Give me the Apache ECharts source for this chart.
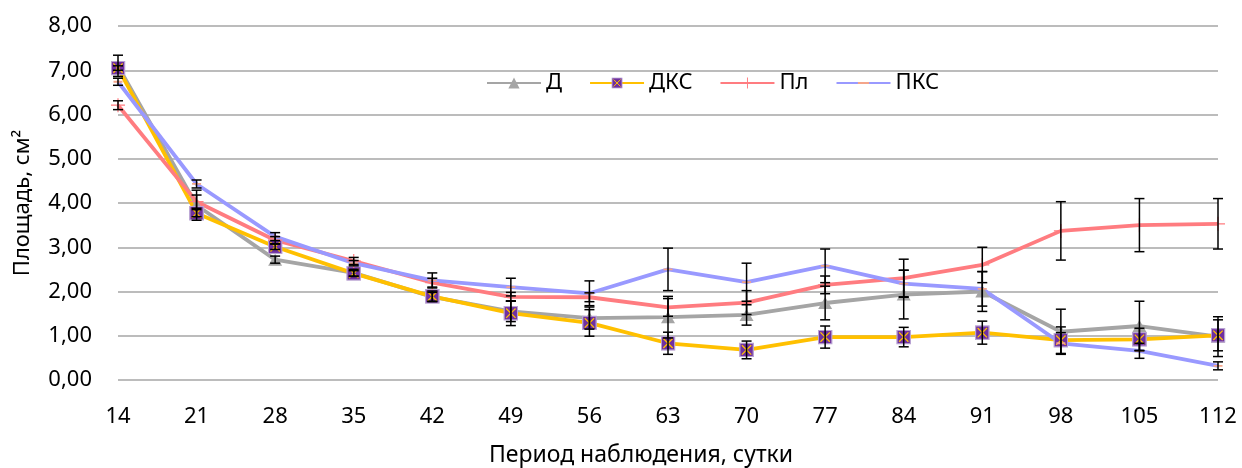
<!DOCTYPE html>
<html>
<head>
<meta charset="utf-8">
<script src="https://cdn.jsdelivr.net/npm/echarts@6/dist/echarts.min.js"></script>
<style>
html,body{margin:0;padding:0;background:#fff;}
#chart{width:1242px;height:468px;}
</style>
</head>
<body>
<div id="chart"></div>
<script>
// ---- data ----
const categories = ['14','21','28','35','42','49','56','63','70','77','84','91','98','105','112'];
const seriesNames = ['Д', 'ДКС', 'Пл', 'ПКС'];
const valD   = [7.10, 3.95, 2.72, 2.42, 1.88, 1.55, 1.40, 1.42, 1.47, 1.74, 1.93, 2.00, 1.09, 1.22, 0.98];
const valDKS = [7.05, 3.77, 3.01, 2.41, 1.89, 1.51, 1.29, 0.83, 0.68, 0.97, 0.97, 1.07, 0.90, 0.92, 1.01];
const valPl  = [6.21, 4.03, 3.16, 2.69, 2.20, 1.88, 1.87, 1.64, 1.75, 2.15, 2.30, 2.60, 3.37, 3.50, 3.53];
const valPKS = [6.74, 4.43, 3.24, 2.64, 2.25, 2.10, 1.96, 2.50, 2.21, 2.58, 2.18, 2.06, 0.83, 0.66, 0.32];
// error bar half-widths
const errD   = [0.24, 0.34, 0.08, 0.08, 0.10, 0.23, 0.25, 0.47, 0.23, 0.38, 0.55, 0.45, 0.51, 0.56, 0.45];
const errDKS = [0.05, 0.08, 0.06, 0.06, 0.12, 0.28, 0.30, 0.25, 0.20, 0.25, 0.22, 0.26, 0.30, 0.25, 0.35];
const errPl  = [0.10, 0.15, 0.08, 0.08, 0.10, 0.10, 0.10, 0.20, 0.27, 0.20, 0.43, 0.40, 0.66, 0.60, 0.57];
const errPKS = [0.08, 0.09, 0.09, 0.06, 0.17, 0.20, 0.28, 0.48, 0.43, 0.38, 0.30, 0.39, 0.24, 0.17, 0.09];
const yTicks = {min: 0, max: 8, interval: 1};

// ---- styles ----
const FONT = 'Noto Sans';
const dksSvg = '<svg xmlns="http://www.w3.org/2000/svg" width="16" height="16" viewBox="0 0 16 16">' +
  '<rect x="0.75" y="0.75" width="14.5" height="14.5" fill="#7030A0" stroke="#B9A3D3" stroke-width="1.5"/>' +
  '<path d="M3,3 L13,13 M13,3 L3,13" stroke="#FFC000" stroke-width="1.4"/></svg>';
const dksSymbol = 'image://data:image/svg+xml;charset=utf-8,' + encodeURIComponent(dksSvg);
const plusSymbol = 'path://M0,6.4H14V7.6H0Z M6.4,0H7.6V14H6.4Z';
const dashSymbol = 'path://M0,0L0,0Z M0,3.2H8V4.8H0Z M8,8L8,8Z';

const vals = [valD, valDKS, valPl, valPKS];
const errs = [errD, errDKS, errPl, errPKS];

function errData(v, e) {
  return v.map((y, i) => [i, y - e[i], y + e[i]]);
}

const lineSeries = [
  {name: seriesNames[0], type: 'line', data: valD, symbol: 'triangle', symbolSize: [14, 12],
   itemStyle: {color: '#A5A5A5'}, lineStyle: {color: '#A5A5A5', width: 3.8}},
  {name: seriesNames[1], type: 'line', data: valDKS, symbol: dksSymbol, symbolSize: 15,
   itemStyle: {color: '#7030A0'}, lineStyle: {color: '#FFC000', width: 3.8}},
  {name: seriesNames[2], type: 'line', data: valPl, symbol: plusSymbol, symbolSize: 14,
   itemStyle: {color: '#FF7C80'}, lineStyle: {color: '#FF7C80', width: 3.8}},
  {name: seriesNames[3], type: 'line', data: valPKS, symbol: dashSymbol, symbolSize: 9,
   itemStyle: {color: '#F4A58A'}, lineStyle: {color: '#9999FF', width: 3.8}}
].map(s => Object.assign(s, {showSymbol: true, showAllSymbol: true, z: 2, animation: false,
  emphasis: {disabled: true}}));

const errorSeries = vals.map((v, k) => ({
  type: 'custom',
  name: seriesNames[k] + '_err',
  z: 3,
  silent: true,
  animation: false,
  data: errData(v, errs[k]),
  renderItem: function (params, api) {
    const x = api.value(0);
    const lo = api.coord([x, api.value(1)]);
    const hi = api.coord([x, api.value(2)]);
    const cw = 5;
    const st = {stroke: '#000', lineWidth: 1.5};
    return {
      type: 'group',
      children: [
        {type: 'line', shape: {x1: lo[0], y1: lo[1], x2: hi[0], y2: hi[1]}, style: st},
        {type: 'line', shape: {x1: lo[0] - cw, y1: lo[1], x2: lo[0] + cw, y2: lo[1]}, style: st},
        {type: 'line', shape: {x1: hi[0] - cw, y1: hi[1], x2: hi[0] + cw, y2: hi[1]}, style: st}
      ]
    };
  }
}));

const chart = echarts.init(document.getElementById('chart'), null, {renderer: 'canvas'});
chart.setOption({
  backgroundColor: '#fff',
  animation: false,
  textStyle: {fontFamily: FONT},
  grid: {left: 118, right: 24, top: 26, bottom: 88, containLabel: false, outerBoundsMode: 'none'},
  legend: {
    data: seriesNames,
    left: 486, top: 72, padding: 0,
    itemWidth: 54, itemHeight: 14, itemGap: 27,
    textStyle: {fontFamily: FONT, fontSize: 22, color: '#000', padding: [0, 0, 0, 0]},
    selectedMode: false
  },
  xAxis: {
    type: 'category',
    data: categories,
    boundaryGap: false,
    name: 'Период наблюдения, сутки',
    nameLocation: 'middle',
    nameGap: 64,
    nameTextStyle: {fontFamily: FONT, fontSize: 23, color: '#000', padding: [0, 54, 0, 0]},
    axisLine: {show: false},
    axisTick: {show: false},
    axisLabel: {fontFamily: FONT, fontSize: 22, color: '#000', margin: 26, interval: 0},
    splitLine: {show: false}
  },
  yAxis: {
    type: 'value',
    min: yTicks.min, max: yTicks.max, interval: yTicks.interval,
    name: 'Площадь, см²',
    nameLocation: 'middle',
    nameGap: 84,
    nameRotate: 90,
    nameTextStyle: {fontFamily: FONT, fontSize: 22, color: '#000'},
    axisLine: {show: false},
    axisTick: {show: false},
    axisLabel: {fontFamily: FONT, fontSize: 22, color: '#000', margin: 26,
      formatter: v => v.toFixed(2).replace('.', ',')},
    splitLine: {show: true, lineStyle: {color: '#A6A6A6', width: 1.5}}
  },
  series: lineSeries.concat(errorSeries)
});
</script>
</body>
</html>
